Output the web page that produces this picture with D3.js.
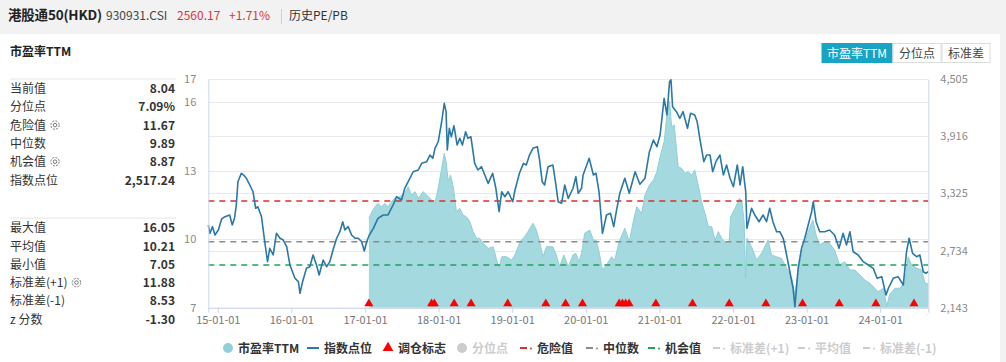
<!DOCTYPE html>
<html><head><meta charset="utf-8">
<script src="https://cdn.jsdelivr.net/npm/d3@7/dist/d3.min.js"></script>
<style>
body{margin:0;background:#f2f2f2;font-family:"Noto Sans CJK SC","Noto Sans",sans-serif;}
svg text{font-family:"Noto Sans CJK SC","Noto Sans",sans-serif;}
</style></head>
<body>
<svg id="c" width="1006" height="362"></svg>
<script>
// ---------- data ----------
const indexDates = ["2014-11-15","2014-11-23","2014-12-06","2014-12-18","2015-01-04","2015-01-20","2015-02-06","2015-03-01","2015-03-14","2015-03-25","2015-04-03","2015-04-11","2015-04-28","2015-05-09","2015-05-23","2015-06-09","2015-06-25","2015-07-08","2015-07-19","2015-08-06","2015-08-22","2015-09-05","2015-09-16","2015-10-03","2015-10-19","2015-11-06","2015-11-22","2015-12-09","2015-12-25","2016-01-19","2016-02-05","2016-02-13","2016-02-26","2016-03-16","2016-04-02","2016-04-18","2016-05-05","2016-05-18","2016-06-07","2016-06-24","2016-07-10","2016-07-26","2016-08-13","2016-08-29","2016-09-12","2016-09-23","2016-10-09","2016-10-26","2016-11-12","2016-11-28","2016-12-15","2016-12-28","2017-01-09","2017-01-22","2017-02-11","2017-03-06","2017-04-01","2017-04-25","2017-05-20","2017-06-06","2017-07-01","2017-07-17","2017-08-03","2017-08-28","2017-09-22","2017-10-09","2017-11-03","2017-11-19","2017-12-03","2017-12-14","2017-12-30","2018-01-16","2018-01-29","2018-02-07","2018-02-13","2018-02-23","2018-03-05","2018-03-18","2018-04-03","2018-04-16","2018-04-29","2018-05-15","2018-05-26","2018-06-10","2018-06-29","2018-07-15","2018-08-02","2018-08-18","2018-09-04","2018-09-26","2018-10-12","2018-10-28","2018-11-10","2018-11-26","2018-12-12","2019-01-04","2019-01-15","2019-02-06","2019-02-26","2019-03-12","2019-03-28","2019-04-14","2019-05-06","2019-05-17","2019-05-30","2019-06-11","2019-06-28","2019-07-22","2019-08-05","2019-08-17","2019-09-03","2019-09-19","2019-10-06","2019-10-30","2019-11-13","2019-11-25","2019-12-11","2019-12-19","2020-01-18","2020-02-08","2020-02-21","2020-03-07","2020-03-24","2020-04-13","2020-05-03","2020-05-19","2020-06-02","2020-06-18","2020-07-13","2020-08-04","2020-09-02","2020-09-26","2020-10-21","2020-11-12","2020-12-02","2020-12-19","2021-01-04","2021-01-24","2021-02-07","2021-02-20","2021-02-27","2021-03-07","2021-03-26","2021-04-12","2021-04-28","2021-05-20","2021-06-04","2021-06-25","2021-07-07","2021-07-20","2021-08-09","2021-08-23","2021-09-09","2021-09-22","2021-10-08","2021-10-28","2021-11-14","2021-11-30","2021-12-17","2022-01-03","2022-01-22","2022-02-05","2022-02-18","2022-03-05","2022-03-11","2022-04-03","2022-04-19","2022-05-10","2022-05-30","2022-06-16","2022-07-02","2022-07-18","2022-08-05","2022-08-21","2022-09-07","2022-09-24","2022-10-10","2022-10-26","2022-11-04","2022-11-20","2022-12-07","2022-12-23","2023-01-09","2023-01-26","2023-02-03","2023-02-17","2023-03-07","2023-04-01","2023-04-25","2023-05-20","2023-06-11","2023-07-01","2023-07-18","2023-08-04","2023-08-20","2023-09-14","2023-10-09","2023-11-03","2023-11-28","2023-12-17","2024-01-09","2024-01-30","2024-02-11","2024-03-06","2024-03-30","2024-04-25","2024-05-11","2024-05-24","2024-06-10","2024-06-30","2024-07-16","2024-08-02","2024-08-15","2024-08-27"];
const indexValues = [2998,2912,2981,2895,2946,3060,3084,3102,2998,3067,3205,3446,3533,3515,3481,3412,3342,3171,3187,3084,2825,2619,2757,2688,2912,2861,2843,2774,2585,2447,2412,2292,2412,2550,2567,2688,2585,2481,2636,2567,2619,2740,2861,2929,3032,2946,2981,2895,2861,2861,2825,2729,2825,2895,2964,3067,3102,3102,3205,3291,3257,3378,3446,3549,3567,3636,3653,3722,3688,3791,3859,4066,4256,4170,3774,3998,3911,4025,3825,3895,3825,3963,3895,3911,3636,3567,3601,3515,3429,3533,3378,3136,3342,3291,3342,3239,3360,3533,3636,3619,3722,3791,3808,3670,3446,3412,3601,3619,3429,3239,3223,3412,3274,3378,3498,3326,3378,3515,3688,3515,3533,3342,2912,3102,3119,2981,3153,3326,3481,3326,3549,3420,3481,3756,3877,3808,3929,4308,4136,4480,4500,4221,4170,4101,4170,3998,4153,4136,4066,3895,3653,3722,3722,3549,3653,3722,3515,3619,3481,3394,3619,3412,3601,3342,2964,3171,3102,3032,3102,3032,3171,3032,2929,2929,2861,2688,2515,2344,2153,2550,2757,2861,2998,3136,3239,3032,2929,2929,2946,2895,2757,2912,2791,2929,2722,2688,2619,2585,2550,2447,2464,2274,2344,2447,2464,2378,2722,2861,2705,2670,2688,2515,2499,2517];

const peDates = ["2017-01-20","2017-02-04","2017-02-20","2017-03-06","2017-03-23","2017-04-09","2017-04-25","2017-05-12","2017-05-28","2017-06-22","2017-07-17","2017-08-03","2017-08-19","2017-09-06","2017-09-22","2017-10-16","2017-11-11","2017-11-27","2017-12-14","2017-12-30","2018-01-16","2018-01-29","2018-02-07","2018-02-18","2018-03-01","2018-03-16","2018-03-30","2018-04-16","2018-05-02","2018-05-19","2018-06-05","2018-06-21","2018-07-08","2018-07-24","2018-08-10","2018-09-04","2018-09-29","2018-10-16","2018-10-28","2018-11-10","2018-12-04","2018-12-29","2019-01-15","2019-02-09","2019-03-04","2019-03-20","2019-04-14","2019-05-01","2019-05-17","2019-06-03","2019-06-20","2019-07-22","2019-08-08","2019-08-25","2019-09-14","2019-10-06","2019-10-30","2019-11-13","2019-11-29","2019-12-11","2019-12-27","2020-01-21","2020-02-08","2020-02-21","2020-03-07","2020-03-24","2020-04-13","2020-05-08","2020-05-24","2020-06-15","2020-07-13","2020-08-04","2020-08-24","2020-09-10","2020-10-04","2020-10-21","2020-11-12","2020-12-02","2020-12-19","2021-01-04","2021-01-24","2021-02-07","2021-02-20","2021-03-02","2021-03-15","2021-04-04","2021-04-21","2021-05-07","2021-05-23","2021-06-10","2021-06-25","2021-07-12","2021-07-29","2021-08-15","2021-09-01","2021-09-17","2021-10-04","2021-10-20","2021-11-06","2021-11-22","2021-12-13","2021-12-20","2022-01-11","2022-02-02","2022-02-14","2022-02-25","2022-03-05","2022-03-11","2022-04-03","2022-04-28","2022-05-22","2022-06-24","2022-07-11","2022-08-05","2022-08-30","2022-09-24","2022-10-19","2022-11-04","2022-11-20","2022-12-15","2023-01-09","2023-02-01","2023-02-17","2023-03-07","2023-04-01","2023-04-25","2023-05-20","2023-06-14","2023-07-09","2023-08-04","2023-08-28","2023-09-23","2023-10-17","2023-11-11","2023-12-06","2023-12-22","2024-01-17","2024-02-03","2024-02-16","2024-03-14","2024-04-08","2024-05-03","2024-05-19","2024-06-05","2024-07-01","2024-07-25","2024-08-11","2024-08-27"];
const peValues = [10.91,11.20,11.42,11.57,11.42,11.57,11.42,11.64,11.79,11.86,12.01,12.30,11.93,12.08,11.79,12.08,11.86,11.72,11.57,12.23,13.10,13.76,13.39,12.52,12.81,12.23,11.20,11.35,11.06,10.98,10.77,10.33,10.04,10.04,9.82,9.60,9.67,9.09,8.75,9.23,9.23,9.09,9.31,9.89,10.11,10.33,10.70,10.40,9.89,9.23,9.67,9.67,9.31,8.80,9.31,8.80,9.31,9.38,9.01,9.38,10.26,10.40,9.96,9.96,9.45,8.65,8.87,9.23,9.09,9.89,10.48,9.89,10.77,11.42,11.13,11.93,12.37,12.59,12.95,13.61,14.27,15.44,16.05,14.92,15.00,13.17,13.10,12.88,12.95,12.81,13.03,12.37,11.64,11.13,10.55,10.55,9.96,10.33,10.04,9.89,9.89,10.98,11.35,11.79,11.64,10.77,8.29,10.04,9.67,9.09,9.38,9.96,9.31,9.23,9.16,8.73,8.29,7.56,8.58,9.60,10.33,10.84,10.18,9.75,9.89,9.82,9.53,8.87,9.01,8.65,8.65,8.43,8.21,8.07,7.85,7.70,7.85,7.05,7.56,7.85,7.85,8.14,9.23,8.87,8.73,8.65,8.07,8.04];

const rebalanceDates = ["2017-01-20","2017-11-27","2017-12-11","2018-03-19","2018-06-11","2018-12-10","2019-06-17","2019-09-23","2019-12-16","2020-06-15","2020-07-01","2020-07-17","2020-08-03","2020-12-14","2021-06-14","2021-12-13","2022-06-13","2022-12-12","2023-06-12","2023-12-11","2024-06-17"];

const leftTicks = [7, 10, 13, 16, 17];
const rightTicks = [2143, 2734, 3325, 3916, 4505];
const xTickDates = ["2015-01-01","2016-01-01","2017-01-01","2018-01-01","2019-01-01","2020-01-01","2021-01-01","2022-01-01","2023-01-01","2024-01-01"];

const dangerValue = 11.67, medianValue = 9.89, chanceValue = 8.87;

const statLabels1 = ["当前值","分位点","危险值","中位数","机会值","指数点位"];
const statValues1 = ["8.04","7.09%","11.67","9.89","8.87","2,517.24"];
const statGear1 = [false,false,true,false,true,false];
const statLabels2 = ["最大值","平均值","最小值","标准差(+1)","标准差(-1)","z 分数"];
const statValues2 = ["16.05","10.21","7.05","11.88","8.53","-1.30"];
const statGear2 = [false,false,false,true,false,false];

const tabLabels = ["市盈率TTM","分位点","标准差"];
const legendItems = [
  {name:"市盈率TTM", type:"circle", color:"#8fd0d9", on:true},
  {name:"指数点位", type:"line", color:"#2b78a6", on:true},
  {name:"调仓标志", type:"tri", color:"#ff0000", on:true},
  {name:"分位点", type:"circle", color:"#cccccc", on:false},
  {name:"危险值", type:"dash", color:"#d9312b", on:true},
  {name:"中位数", type:"dash", color:"#8c8c8c", on:true},
  {name:"机会值", type:"dash", color:"#21a35a", on:true},
  {name:"标准差(+1)", type:"dash", color:"#cccccc", on:false},
  {name:"平均值", type:"dash", color:"#cccccc", on:false},
  {name:"标准差(-1)", type:"dash", color:"#cccccc", on:false}
];

// ---------- drawing ----------
const parse = d3.timeParse("%Y-%m-%d");
const svg = d3.select("#c");

// card
svg.append("rect").attr("x",0).attr("y",34).attr("width",1000).attr("height",328).attr("fill","#ffffff");

// header
const hdr = svg.append("g");
hdr.append("text").attr("x",8).attr("y",20).attr("font-size",13.5).attr("font-weight","bold").attr("fill","#222").attr("textLength",94).text("港股通50(HKD)");
hdr.append("text").attr("x",106).attr("y",20).attr("font-size",12).attr("fill","#444").text("930931.CSI");
hdr.append("text").attr("x",177).attr("y",20).attr("font-size",12).attr("fill","#d9363e").text("2560.17");
hdr.append("text").attr("x",229).attr("y",20).attr("font-size",12).attr("fill","#d9363e").text("+1.71%");
hdr.append("line").attr("x1",281.5).attr("x2",281.5).attr("y1",9).attr("y2",24).attr("stroke","#d0d0d0");
hdr.append("text").attr("x",289).attr("y",20).attr("font-size",12).attr("fill","#333").text("历史PE/PB");

// left panel
svg.append("text").attr("x",10).attr("y",56).attr("font-size",12).attr("font-weight","bold").attr("fill","#222").text("市盈率TTM");
function gear(g, cx, cy){
  const gg = g.append("g").attr("transform",`translate(${cx},${cy})`);
  gg.append("circle").attr("r",4.2).attr("fill","none").attr("stroke","#777").attr("stroke-width",1).attr("stroke-dasharray","2,1.3");
  gg.append("circle").attr("r",1.8).attr("fill","none").attr("stroke","#777").attr("stroke-width",1);
}
function statBlock(labels, values, gears, top, divY){
  svg.append("line").attr("x1",10).attr("x2",176).attr("y1",divY).attr("y2",divY).attr("stroke","#e6e6e6");
  labels.forEach((l,i)=>{
    const y = top + i*18.3;
    const t = svg.append("text").attr("x",10).attr("y",y+4.5).attr("font-size",12).attr("fill","#333").text(l);
    if(gears[i]){
      const w = t.node().getComputedTextLength();
      gear(svg, 10 + w + 9, y);
    }
    svg.append("text").attr("x",175).attr("y",y+4.5).attr("text-anchor","end").attr("font-size",12).attr("font-weight","bold").attr("fill","#333").text(values[i]);
  });
}
statBlock(statLabels1, statValues1, statGear1, 88.5, 79);
statBlock(statLabels2, statValues2, statGear2, 227.7, 218);

// tabs
const tabX = [821.5, 892.5, 941.5, 990.5];
tabLabels.forEach((t,i)=>{
  const active = i===0;
  svg.append("rect").attr("x",tabX[i]+0.5).attr("y",43.5).attr("width",tabX[i+1]-tabX[i]-1).attr("height",19)
    .attr("fill",active?"#18a5c4":"#fff").attr("stroke",active?"#18a5c4":"#dcdcdc");
  svg.append("text").attr("x",(tabX[i]+tabX[i+1])/2).attr("y",57.5).attr("text-anchor","middle").attr("font-size",12)
    .attr("fill",active?"#fff":"#444").text(t);
});

// scales
const x0 = 208.3, x1 = 928.3, yTop = 79.3, yBot = 307.7;
const x = d3.scaleTime().domain([parse("2014-11-15"), parse("2024-08-27")]).range([x0, x1]);
const yL = d3.scaleLinear().domain([7,17]).range([yBot, yTop]);
const yR = d3.scaleLinear().domain([2143,4505]).range([yBot, yTop]);

// gridlines
const grid = svg.append("g");
leftTicks.forEach(v=>grid.append("line").attr("x1",x0).attr("x2",x1).attr("y1",Math.round(yL(v))+0.5).attr("y2",Math.round(yL(v))+0.5).attr("stroke","#e9e9e9"));
rightTicks.forEach(v=>grid.append("line").attr("x1",x0).attr("x2",x1).attr("y1",Math.round(yR(v))+0.5).attr("y2",Math.round(yR(v))+0.5).attr("stroke","#e9e9e9"));

// PE area
const peData = peDates.map((d,i)=>({date:parse(d), v:peValues[i]}));
svg.append("path").datum(peData)
  .attr("d", d3.area().x(d=>x(d.date)).y0(yBot).y1(d=>yL(d.v)))
  .attr("fill","#a3d9df");
svg.append("path").datum(peData)
  .attr("d", d3.line().x(d=>x(d.date)).y(d=>yL(d.v)))
  .attr("fill","none").attr("stroke","#90d0d8").attr("stroke-width",1);

// reference dashed lines
[[dangerValue,"#d9312b"],[medianValue,"#8c8c8c"],[chanceValue,"#21a35a"]].forEach(([v,c])=>{
  svg.append("line").attr("x1",x0).attr("x2",x1).attr("y1",yL(v)).attr("y2",yL(v))
    .attr("stroke",c).attr("stroke-width",1.6).attr("stroke-dasharray","6,5");
});

// index line
const idxData = indexDates.map((d,i)=>({date:parse(d), v:indexValues[i]}));
svg.append("path").datum(idxData)
  .attr("d", d3.line().x(d=>x(d.date)).y(d=>yR(d.v)))
  .attr("fill","none").attr("stroke","#2b78a6").attr("stroke-width",1.6).attr("stroke-linejoin","round");

// axes
const axL = svg.append("g").attr("transform",`translate(${x0},0)`)
  .call(d3.axisLeft(yL).tickValues(leftTicks).tickSize(0).tickPadding(12).tickFormat(d3.format("d")));
const axR = svg.append("g").attr("transform",`translate(${x1},0)`)
  .call(d3.axisRight(yR).tickValues(rightTicks).tickSize(0).tickPadding(12).tickFormat(d3.format(",")));
const axB = svg.append("g").attr("transform",`translate(0,${yBot})`)
  .call(d3.axisBottom(x).tickValues(xTickDates.map(parse)).tickSize(5).tickPadding(4).tickFormat(d3.timeFormat("%y-%m-%d")));
[axL,axR,axB].forEach(a=>{
  a.select(".domain").attr("stroke","#ccd6eb");
  a.selectAll("text").attr("fill","#8a8a8a").attr("font-size",11).attr("font-family","'DejaVu Sans',sans-serif");
  a.selectAll(".tick line").attr("stroke","#ccd6eb");
});
axB.selectAll("text").attr("fill","#777");

// rebalance triangles
svg.append("g").selectAll("path").data(rebalanceDates.map(parse)).join("path")
  .attr("transform", d=>`translate(${x(d)},${yBot-4})`)
  .attr("d", d3.symbol().type(d3.symbolTriangle).size(36))
  .attr("fill","#ff0000");

// legend
const lg = svg.append("g");
const legX = [228, 307, 388, 462, 520, 586, 648, 713, 798, 863];
const ly = 348;
legendItems.forEach((it,i)=>{
  const lx = legX[i];
  let tx;
  if(it.type==="circle"){
    lg.append("circle").attr("cx",lx).attr("cy",ly).attr("r",5).attr("fill",it.color);
    tx = lx + 10;
  } else if(it.type==="line"){
    lg.append("line").attr("x1",lx).attr("x2",lx+12).attr("y1",ly).attr("y2",ly).attr("stroke",it.color).attr("stroke-width",2);
    tx = lx + 17;
  } else if(it.type==="tri"){
    lg.append("path").attr("transform",`translate(${lx},${ly})`).attr("d",d3.symbol().type(d3.symbolTriangle).size(50)).attr("fill",it.color);
    tx = lx + 10;
  } else {
    lg.append("line").attr("x1",lx).attr("x2",lx+7).attr("y1",ly).attr("y2",ly).attr("stroke",it.color).attr("stroke-width",2);
    lg.append("circle").attr("cx",lx+11).attr("cy",ly+0.5).attr("r",1).attr("fill",it.color);
    tx = lx + 17;
  }
  lg.append("text").attr("x",tx).attr("y",ly+4.5).attr("font-size",12).attr("font-weight","bold")
    .attr("fill", it.on ? "#333" : "#cccccc").text(it.name);
});
</script>
</body></html>
